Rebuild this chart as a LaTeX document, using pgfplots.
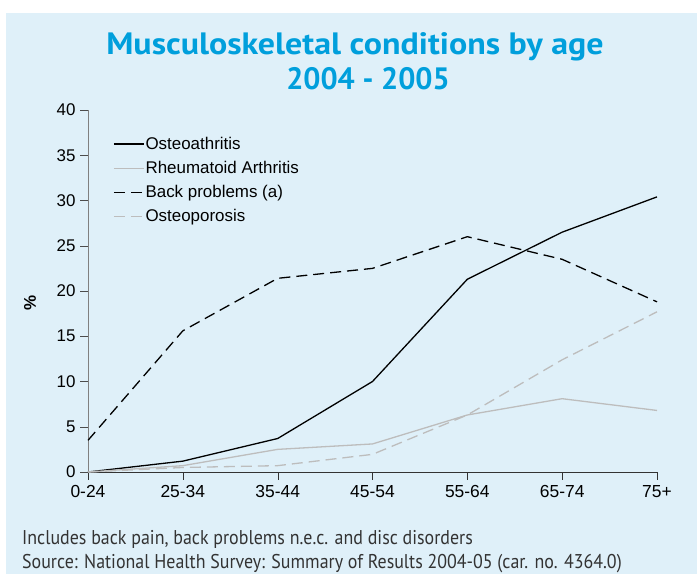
\documentclass[border=0pt]{standalone}
\usepackage{fontspec}
\setmainfont{Liberation Sans}
\newfontfamily\titlefont[FakeStretch=1.1]{PT Sans}
\newfontfamily\titlefontb[FakeStretch=0.98]{PT Sans}
\newfontfamily\notefont[FakeStretch=0.9]{PT Sans}
\usepackage{pgfplots}
\pgfplotsset{compat=1.18}
\definecolor{bg}{HTML}{DFF0F9}
\definecolor{ttl}{HTML}{009FDC}
\definecolor{lgray}{HTML}{BDBDBD}
\definecolor{notec}{HTML}{333333}
\begin{document}
\begin{tikzpicture}[x=1bp,y=1bp]
\fill[white] (0,0) rectangle (697,574);
\fill[bg] (6,0) rectangle (697,561);
\node[anchor=base,text=ttl,inner sep=0] at (355,519) {\fontsize{31}{35}\selectfont\titlefont\bfseries Musculoskeletal conditions by age};
\node[anchor=base,text=ttl,inner sep=0] at (368,484) {\fontsize{31}{35}\selectfont\titlefontb\bfseries 2004 - 2005};
\node[anchor=base west,text=notec,inner sep=0] at (22,29) {\fontsize{20}{24}\selectfont\notefont Includes back pain, back problems n.e.c. and disc disorders};
\node[anchor=base west,text=notec,inner sep=0] at (22,5) {\fontsize{20}{24}\selectfont\notefont Source: National Health Survey: Summary of Results 2004-05 (car. no. 4364.0)};
\begin{axis}[
  at={(88bp,102bp)}, anchor=south west,
  scale only axis, width=569bp, height=362bp,
  xmin=0, xmax=6, ymin=0, ymax=40,
  axis x line*=bottom, axis y line*=left,
  x axis line style={black!80},
  y axis line style={gray},
  tick align=outside, major tick length=8bp,
  xtick={0,1,2,3,4,5,6},
  xticklabels={0-24,25-34,35-44,45-54,55-64,65-74,75+},
  ytick={0,5,10,15,20,25,30,35,40},
  x tick style={black!80}, y tick style={black!70},
  /pgf/number format/assume math mode=true,
  xticklabel style={font=\fontsize{17.5}{19}\selectfont, yshift=-2bp},
  yticklabel style={font=\fontsize{17}{19}\selectfont, xshift=-1bp},
  ylabel={\textbf{\%}},
  ylabel style={at={(axis description cs:-0.102,0.467)}, anchor=center, font=\fontsize{17}{18}\selectfont},
  legend cell align=left,
  legend style={at={(axis description cs:0.044,0.928)}, anchor=north west, draw=none, fill=none,
    font=\fontsize{17}{19}\selectfont, row sep=8.3bp, inner sep=0pt,
    nodes={inner sep=1bp}},
  legend image code/.code={\draw[#1] plot coordinates {(0bp,0bp) (15bp,0bp) (30bp,0bp)};},
  every axis plot/.append style={line width=1.3bp, mark=none},
  clip=false,
]
\addplot[black] coordinates {(0,0) (1,1.2) (2,3.7) (3,10.0) (4,21.3) (5,26.5) (6,30.4)};
\addlegendentry{Osteoathritis}
\addplot[lgray] coordinates {(0,0) (1,0.7) (2,2.5) (3,3.1) (4,6.3) (5,8.1) (6,6.8)};
\addlegendentry{Rheumatoid Arthritis}
\addplot[black, dash pattern=on 11bp off 6bp] coordinates {(0,3.5) (1,15.6) (2,21.4) (3,22.5) (4,26.0) (5,23.5) (6,18.8)};
\addlegendentry{Back problems (a)}
\addplot[lgray, dash pattern=on 11bp off 6bp] coordinates {(0,0) (1,0.5) (2,0.7) (3,1.95) (4,6.3) (5,12.4) (6,17.7)};
\addlegendentry{Osteoporosis}
\end{axis}
\end{tikzpicture}
\end{document}
